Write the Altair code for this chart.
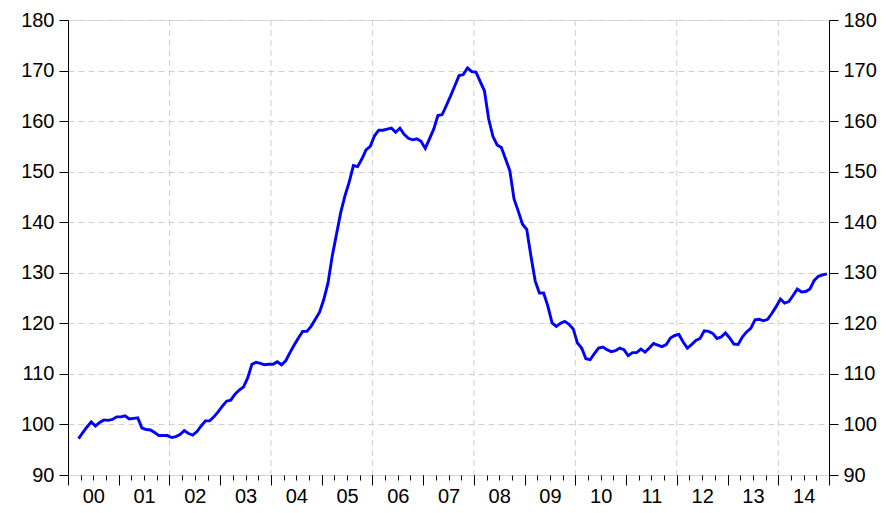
import altair as alt
import pandas as pd

# Monthly index, first observation March 2000, last December 2014
start_year = 2000
start_month = 3
values = [
    97.2, 98.4, 99.5, 100.5, 99.7, 100.4, 100.9, 100.8, 101.0, 101.5,
    101.5, 101.7, 101.1, 101.2, 101.3, 99.3, 99.0, 98.9, 98.4, 97.8, 97.8, 97.8,
    97.4, 97.6, 98.0, 98.8, 98.2, 97.9, 98.6, 99.7, 100.7, 100.7, 101.5, 102.5,
    103.6, 104.6, 104.8, 106.0, 106.8, 107.4, 109.2, 111.9, 112.3, 112.1, 111.8, 111.9,
    111.9, 112.4, 111.8, 112.6, 114.2, 115.7, 117.1, 118.4, 118.4, 119.4, 120.8, 122.2,
    124.7, 128.0, 133.3, 137.6, 141.9, 145.2, 147.9, 151.2, 151.0, 152.5, 154.3, 155.0,
    157.1, 158.2, 158.2, 158.4, 158.6, 157.8, 158.6, 157.4, 156.6, 156.3, 156.5, 156.0,
    154.6, 156.5, 158.4, 161.1, 161.3, 163.1, 165.0, 167.0, 169.0, 169.2, 170.5, 169.8,
    169.7, 167.8, 166.0, 160.4, 157.0, 155.3, 154.8, 152.5, 150.2, 144.6, 142.2, 139.6,
    138.6, 133.3, 128.4, 126.0, 126.0, 123.4, 120.1, 119.4, 120.0, 120.4, 119.8, 118.9,
    116.1, 115.1, 113.0, 112.8, 114.0, 115.1, 115.3, 114.8, 114.4, 114.6, 115.1, 114.8,
    113.6, 114.2, 114.2, 114.9, 114.3, 115.1, 116.0, 115.7, 115.4, 115.8, 117.1, 117.6,
    117.8, 116.3, 115.1, 115.8, 116.6, 117.0, 118.5, 118.4, 118.0, 117.0, 117.3, 118.1,
    117.1, 115.9, 115.8, 117.3, 118.3, 119.0, 120.7, 120.8, 120.5, 120.8, 122.0, 123.3,
    124.8, 124.0, 124.3, 125.5, 126.8, 126.2, 126.3, 126.8, 128.5, 129.3, 129.6, 129.8,
]
year_labels = ["00", "01", "02", "03", "04", "05", "06", "07",
               "08", "09", "10", "11", "12", "13", "14"]
y_ticks = [90, 100, 110, 120, 130, 140, 150, 160, 170, 180]
grid_years = [2002, 2004, 2006, 2008, 2010, 2012, 2014]
x_domain = [2000, 2015]
y_domain = [90, 180]

FONT = "Liberation Sans"
FS = 20

# observation k sits at the middle of its month slot
rows = []
for k, v in enumerate(values):
    m = start_month - 1 + k
    rows.append({"t": start_year + (m + 0.5) / 12.0, "v": v})
df = pd.DataFrame(rows)
grid_df = pd.DataFrame({"g": grid_years})

quarter_ticks = [x_domain[0] + q / 4.0 for q in range(4 * (x_domain[1] - x_domain[0]) + 1)]
year_ticks = list(range(x_domain[0], x_domain[1] + 1))
lab_arr = "[" + ",".join('"%s"' % s for s in year_labels) + "]"
label_expr = ("((datum.value * 4) % 4 == 2) ? " + lab_arr +
              "[floor(datum.value) - %d] : ''" % x_domain[0])

xs = alt.Scale(domain=x_domain, nice=False, zero=False)
ys = alt.Scale(domain=y_domain, nice=False, zero=False)

common = dict(labelFont=FONT, labelFontSize=FS, labelColor="black",
              tickColor="black", domainColor="black", title=None)

vgrid = alt.Chart(grid_df).mark_rule(
    color="#cfcfcf", strokeWidth=1, strokeDash=[6, 4]
).encode(x=alt.X("g:Q", scale=xs, axis=None))

line = alt.Chart(df).mark_line(color="#0000ff", strokeWidth=2.9).encode(
    x=alt.X("t:Q", scale=xs, axis=alt.Axis(
        values=quarter_ticks, labelExpr=label_expr, tickSize=5, labelPadding=6,
        orient="bottom", grid=False, domain=False, labelOverlap=False,
        labelFlush=False, labelBound=False, labelAngle=0, **common)),
    y=alt.Y("v:Q", scale=ys, axis=alt.Axis(
        values=y_ticks, orient="left", tickSize=9, labelPadding=5,
        grid=True, gridDash=[6, 4], gridColor="#cfcfcf", gridWidth=1,
        labelOverlap=False, labelFlush=False, **common)),
)

ghost = alt.Chart(df).mark_line(opacity=0).encode(
    x=alt.X("t:Q", scale=xs, axis=alt.Axis(
        values=year_ticks, labels=False, tickSize=10, grid=False,
        orient="bottom", domain=False, **common)),
    y=alt.Y("v:Q", scale=ys, axis=alt.Axis(
        values=y_ticks, orient="right", tickSize=9, labelPadding=5,
        grid=False, labelOverlap=False, labelFlush=False, **common)),
)

chart = alt.layer(vgrid, line, ghost).resolve_axis(
    x="independent", y="independent"
).properties(
    width=761, height=455,
    padding={"left": 60, "top": 12, "right": 50, "bottom": 32},
    autosize=alt.AutoSizeParams(type="none"),
).configure_view(stroke="black", strokeWidth=1.2).configure(background="white")

chart.save("out.html", embed_options={"renderer": "svg", "actions": False})
